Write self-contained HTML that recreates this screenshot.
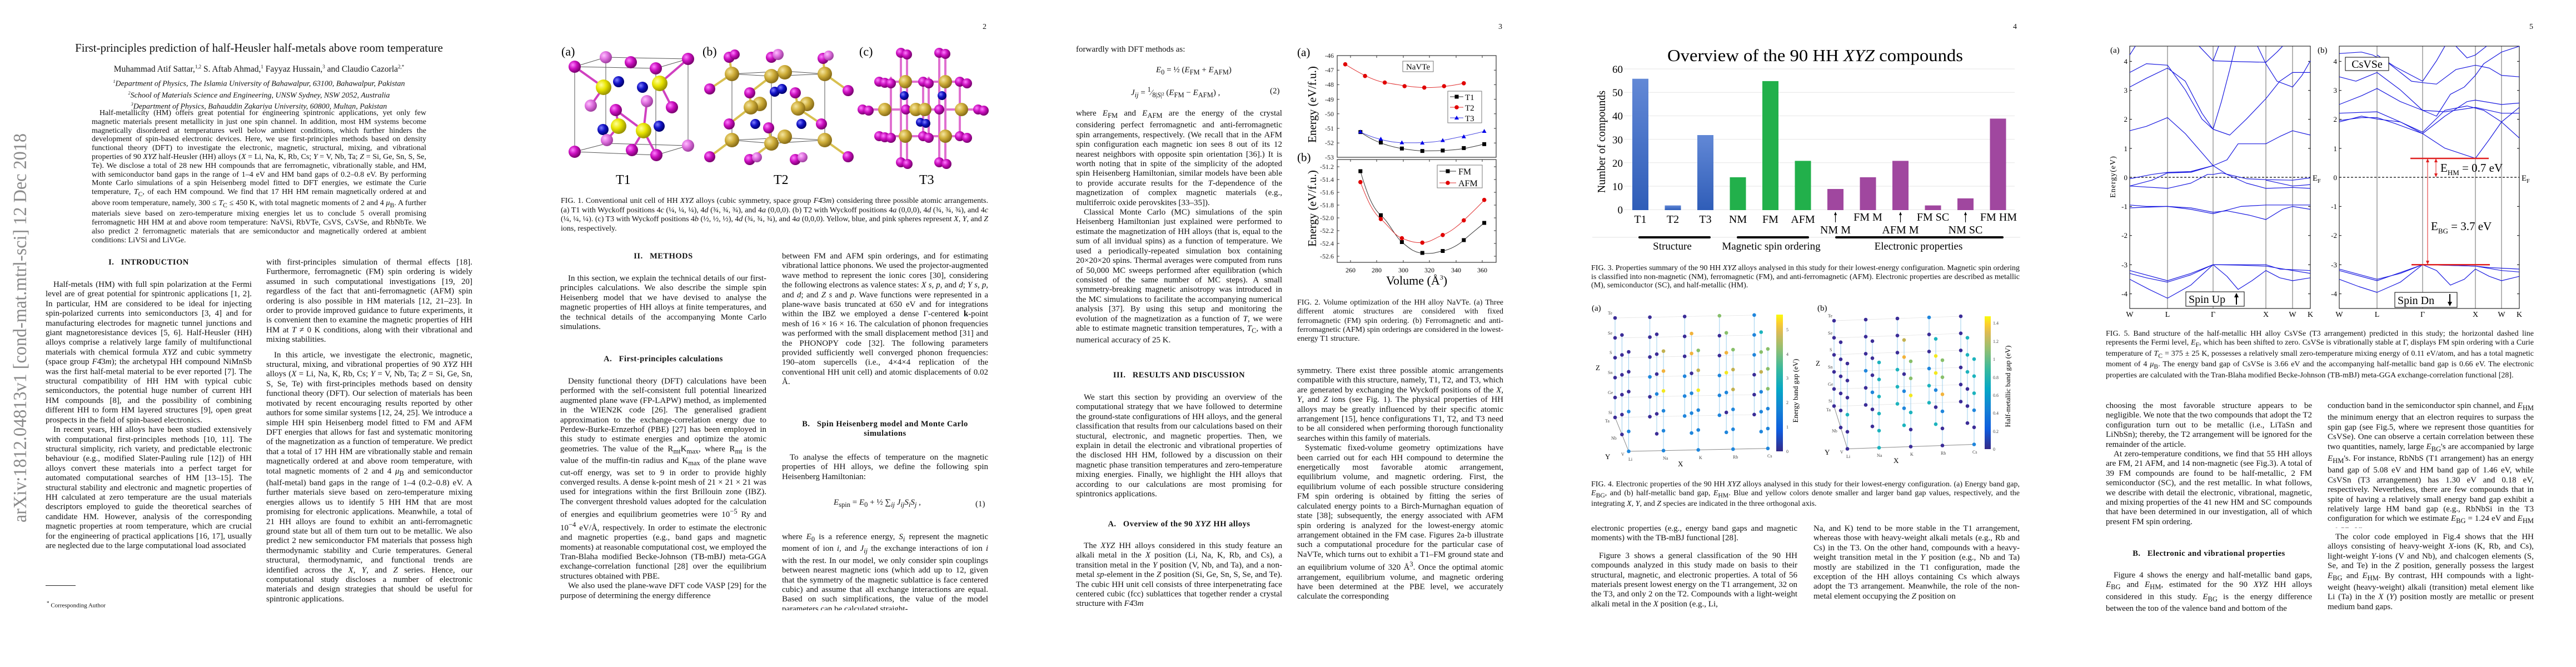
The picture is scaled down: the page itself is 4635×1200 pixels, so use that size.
<!DOCTYPE html>
<html lang="en"><head><meta charset="utf-8">
<style>
html,body{margin:0;padding:0;background:#fff;}
body{width:4635px;height:1200px;position:relative;overflow:hidden;font-family:"Liberation Serif",serif;color:#111;}
.c{position:absolute;width:371px;font-size:15px;line-height:17.4px;text-align:justify;hyphens:auto;overflow:hidden;}
.c p{margin:0;text-indent:14px;}
.c p.ni{text-indent:0;}
.cap{position:absolute;font-size:14px;line-height:16px;text-align:justify;hyphens:auto;overflow:hidden;}
.h{position:absolute;width:371px;text-align:center;font-size:14.5px;font-weight:bold;letter-spacing:.5px;}
.pn{position:absolute;font-size:14px;}
svg text{font-family:"Liberation Serif",serif;}
.D{fill:#3b2c97}.B{fill:#1f86dc}.T{fill:#1cb3bd}.G{fill:#88bf6a}.O{fill:#f2b33c}.Y{fill:#f3e81e}.L{fill:#c2b150}
</style></head><body>

<!-- arXiv stamp -->
<svg style="position:absolute;left:0;top:0" width="70" height="1000"><text transform="translate(47,940) rotate(-90)" font-size="34" fill="#8a8a8a" textLength="700" lengthAdjust="spacingAndGlyphs">arXiv:1812.04813v1  [cond-mat.mtrl-sci]  12 Dec 2018</text></svg>

<!-- PAGE 1 -->
<div style="position:absolute;left:80px;width:772px;top:74px;text-align:center;font-size:21px;">First-principles prediction of half-Heusler half-metals above room temperature</div>
<div style="position:absolute;left:80px;width:772px;top:115px;text-align:center;font-size:15.5px;">Muhammad Atif Sattar,<sup style="font-size:9px">1,2</sup> S. Aftab Ahmad,<sup style="font-size:9px">1</sup> Fayyaz Hussain,<sup style="font-size:9px">3</sup> and Claudio Cazorla<sup style="font-size:9px">2,*</sup></div>
<div style="position:absolute;left:80px;width:772px;top:139px;text-align:center;font-size:14px;line-height:16px;font-style:italic;"><sup style="font-size:8px">1</sup>Department of Physics, The Islamia University of Bahawalpur, 63100, Bahawalpur, Pakistan<br><sup style="font-size:8px">2</sup>School of Materials Science and Engineering, UNSW Sydney, NSW 2052, Australia<br><sup style="font-size:8px">3</sup>Department of Physics, Bahauddin Zakariya University, 60800, Multan, Pakistan</div>
<div class="cap" style="left:165px;width:602px;top:196px;line-height:15.8px;height:240px;"><span style="padding-left:14px"></span>Half-metallicity (HM) offers great potential for engineering spintronic applications, yet only few magnetic materials present metallicity in just one spin channel. In addition, most HM systems become magnetically disordered at temperatures well below ambient conditions, which further hinders the development of spin-based electronic devices. Here, we use first-principles methods based on density functional theory (DFT) to investigate the electronic, magnetic, structural, mixing, and vibrational properties of 90 <i>XYZ</i> half-Heusler (HH) alloys (<i>X</i> = Li, Na, K, Rb, Cs; <i>Y</i> = V, Nb, Ta; <i>Z</i> = Si, Ge, Sn, S, Se, Te). We disclose a total of 28 new HH compounds that are ferromagnetic, vibrationally stable, and HM, with semiconductor band gaps in the range of 1–4 eV and HM band gaps of 0.2–0.8 eV. By performing Monte Carlo simulations of a spin Heisenberg model fitted to DFT energies, we estimate the Curie temperature, <i>T</i><sub>C</sub>, of each HM compound. We find that 17 HH HM remain magnetically ordered at and above room temperature, namely, 300 ≤ <i>T</i><sub>C</sub> ≤ 450 K, with total magnetic moments of 2 and 4 <i>μ</i><sub>B</sub>. A further materials sieve based on zero-temperature mixing energies let us to conclude 5 overall promising ferromagnetic HH HM at and above room temperature: NaVSi, RbVTe, CsVS, CsVSe, and RbNbTe. We also predict 2 ferromagnetic materials that are semiconductor and magnetically ordered at ambient conditions: LiVSi and LiVGe.</div>

<div class="h" style="left:82px;top:464px;">I.&nbsp;&nbsp;&nbsp;INTRODUCTION</div>
<div class="c" style="left:82px;top:504px;height:522px;">
<p>Half-metals (HM) with full spin polarization at the Fermi level are of great potential for spintronic applications [1, 2]. In particular, HM are considered to be ideal for injecting spin-polarized currents into semiconductors [3, 4] and for manufacturing electrodes for magnetic tunnel junctions and giant magnetoresistance devices [5, 6]. Half-Heusler (HH) alloys comprise a relatively large family of multifunctional materials with chemical formula <i>XYZ</i> and cubic symmetry (space group <i>F</i>4̄3<i>m</i>); the archetypal HH compound NiMnSb was the first half-metal material to be ever reported [7]. The structural compatibility of HH HM with typical cubic semiconductors, the potential huge number of current HH HM compounds [8], and the possibility of combining different HH to form HM layered structures [9], open great prospects in the field of spin-based electronics.</p>
<p>In recent years, HH alloys have been studied extensively with computational first-principles methods [10, 11]. The structural simplicity, rich variety, and predictable electronic behaviour (e.g., modified Slater-Pauling rule [12]) of HH alloys convert these materials into a perfect target for automated computational searches of HM [13–15]. The structural stability and electronic and magnetic properties of HH calculated at zero temperature are the usual materials descriptors employed to guide the theoretical searches of candidate HM. However, analysis of the corresponding magnetic properties at room temperature, which are crucial for the engineering of practical applications [16, 17], usually are neglected due to the large computational load associated</p></div>
<div style="position:absolute;left:82px;top:1053px;width:54px;border-top:1px solid #222;"></div>
<div style="position:absolute;left:84px;top:1080px;font-size:11px;"><sup>*</sup> Corresponding Author</div>
<div class="c" style="left:479px;top:464px;height:640px;">
<p class="ni">with first-principles simulation of thermal effects [18]. Furthermore, ferromagnetic (FM) spin ordering is widely assumed in such computational investigations [19, 20] regardless of the fact that anti-ferromagnetic (AFM) spin ordering is also possible in HM materials [12, 21–23]. In order to provide improved guidance to future experiments, it is convenient then to examine the magnetic properties of HH HM at <i>T</i> ≠ 0 K conditions, along with their vibrational and mixing stabilities.</p>
<p style="margin-top:10px">In this article, we investigate the electronic, magnetic, structural, mixing, and vibrational properties of 90 <i>XYZ</i> HH alloys (<i>X</i> = Li, Na, K, Rb, Cs; <i>Y</i> = V, Nb, Ta; <i>Z</i> = Si, Ge, Sn, S, Se, Te) with first-principles methods based on density functional theory (DFT). Our selection of materials has been motivated by recent encouraging results reported by other authors for some similar systems [12, 24, 25]. We introduce a simple HH spin Heisenberg model fitted to FM and AFM DFT energies that allows for fast and systematic monitoring of the magnetization as a function of temperature. We predict that a total of 17 HH HM are vibrationally stable and remain magnetically ordered at and above room temperature, with total magnetic moments of 2 and 4 <i>μ</i><sub>B</sub> and semiconductor (half-metal) band gaps in the range of 1–4 (0.2–0.8) eV. A further materials sieve based on zero-temperature mixing energies allows us to identify 5 HH HM that are most promising for electronic applications. Meanwhile, a total of 21 HH alloys are found to exhibit an anti-ferromagnetic ground state but all of them turn out to be metallic. We also predict 2 new semiconductor FM materials that possess high thermodynamic stability and Curie temperatures. General structural, thermodynamic, and functional trends are identified across the <i>X</i>, <i>Y</i>, and <i>Z</i> series. Hence, our computational study discloses a number of electronic materials and design strategies that should be useful for spintronic applications.</p></div>

<!-- PAGE 2 -->
<div class="pn" style="left:1768px;top:41px;">2</div>
<div class="cap" style="left:1009px;width:769px;top:354px;line-height:16.6px;height:70px;">FIG. 1. Conventional unit cell of HH <i>XYZ</i> alloys (cubic symmetry, space group <i>F</i>4̄3<i>m</i>) considering three possible atomic arrangements. (a) T1 with Wyckoff positions 4<i>c</i> (¼, ¼, ¼), 4<i>d</i> (¾, ¾, ¾), and 4<i>a</i> (0,0,0). (b) T2 with Wyckoff positions 4<i>a</i> (0,0,0), 4<i>d</i> (¾, ¾, ¾), and 4<i>c</i> (¼, ¼, ¼). (c) T3 with Wyckoff positions 4<i>b</i> (½, ½, ½), 4<i>d</i> (¾, ¾, ¾), and 4<i>a</i> (0,0,0). Yellow, blue, and pink spheres represent <i>X</i>, <i>Y</i>, and <i>Z</i> ions, respectively.</div>
<div class="h" style="left:1008px;top:453px;">II.&nbsp;&nbsp;&nbsp;METHODS</div>
<div class="c" style="left:1008px;top:493px;height:106px;"><p>In this section, we explain the technical details of our first-principles calculations. We also describe the simple spin Heisenberg model that we have devised to analyse the magnetic properties of HH alloys at finite temperatures, and the technical details of the accompanying Monte Carlo simulations.</p></div>
<div class="h" style="left:1008px;top:638px;">A.&nbsp;&nbsp;&nbsp;First-principles calculations</div>
<div class="c" style="left:1008px;top:678px;height:420px;"><p>Density functional theory (DFT) calculations have been performed with the self-consistent full potential linearized augmented plane wave (FP-LAPW) method, as implemented in the WIEN2K code [26]. The generalised gradient approximation to the exchange-correlation energy due to Perdew-Burke-Ernzerhof (PBE) [27] has been employed in this study to estimate energies and optimize the atomic geometries. The value of the R<sub>mt</sub>K<sub>max</sub>, where R<sub>mt</sub> is the value of the muffin-tin radius and K<sub>max</sub> of the plane wave cut-off energy, was set to 9 in order to provide highly converged results. A dense k-point mesh of 21 × 21 × 21 was used for integrations within the first Brillouin zone (IBZ). The convergent threshold values adopted for the calculation of energies and equilibrium geometries were 10<sup>−5</sup> Ry and 10<sup>−4</sup> eV/Å, respectively. In order to estimate the electronic and magnetic properties (e.g., band gaps and magnetic moments) at reasonable computational cost, we employed the Tran-Blaha modified Becke-Johnson (TB-mBJ) meta-GGA exchange-correlation functional [28] over the equilibrium structures obtained with PBE.</p><p>We also used the plane-wave DFT code VASP [29] for the purpose of determining the energy difference</p></div>
<div class="c" style="left:1407px;top:453px;height:245px;"><p class="ni">between FM and AFM spin orderings, and for estimating vibrational lattice phonons. We used the projector-augmented wave method to represent the ionic cores [30], considering the following electrons as valence states: <i>X s</i>, <i>p</i>, and <i>d</i>; <i>Y s</i>, <i>p</i>, and <i>d</i>; and <i>Z s</i> and <i>p</i>. Wave functions were represented in a plane-wave basis truncated at 650 eV and for integrations within the IBZ we employed a dense Γ-centered <b>k</b>-point mesh of 16 × 16 × 16. The calculation of phonon frequencies was performed with the small displacement method [31] and the PHONOPY code [32]. The following parameters provided sufficiently well converged phonon frequencies: 190–atom supercells (i.e., 4×4×4 replication of the conventional HH unit cell) and atomic displacements of 0.02 Å.</p></div>
<div class="h" style="left:1407px;top:755px;line-height:16.5px;">B.&nbsp;&nbsp;&nbsp;Spin Heisenberg model and Monte Carlo<br>simulations</div>
<div class="c" style="left:1407px;top:815px;height:55px;"><p>To analyse the effects of temperature on the magnetic properties of HH alloys, we define the following spin Heisenberg Hamiltonian:</p></div>
<div style="position:absolute;left:1500px;top:896px;font-size:15px;"><i>E</i><sub>spin</sub> = <i>E</i><sub>0</sub> + ½ ∑<sub><i>ij</i></sub> <i>J<sub>ij</sub>S<sub>i</sub>S<sub>j</sub></i> ,</div>
<div style="position:absolute;left:1755px;top:899px;font-size:15px;">(1)</div>
<div class="c" style="left:1407px;top:958px;height:140px;"><p class="ni">where <i>E</i><sub>0</sub> is a reference energy, <i>S<sub>i</sub></i> represent the magnetic moment of ion <i>i</i>, and <i>J<sub>ij</sub></i> the exchange interactions of ion <i>i</i> with the rest. In our model, we only consider spin couplings between nearest magnetic ions (which add up to 12, given that the symmetry of the magnetic sublattice is face centered cubic) and assume that all exchange interactions are equal. Based on such simplifications, the value of the model parameters can be calculated straight-</p></div>

<!-- PAGE 3 -->
<div class="pn" style="left:2696px;top:41px;">3</div>
<div class="c" style="left:1936px;top:81px;height:20px;"><p class="ni">forwardly with DFT methods as:</p></div>
<div style="position:absolute;left:2080px;top:118px;font-size:15px;"><i>E</i><sub>0</sub> = ½ (<i>E</i><sub>FM</sub> + <i>E</i><sub>AFM</sub>)</div>
<div style="position:absolute;left:2035px;top:154px;font-size:15px;"><i>J<sub>ij</sub></i> = <sup>1</sup>⁄<sub>8|<i>S</i>|²</sub> (<i>E</i><sub>FM</sub> − <i>E</i><sub>AFM</sub>) ,</div>
<div style="position:absolute;left:2285px;top:156px;font-size:15px;">(2)</div>
<div class="c" style="left:1936px;top:196px;height:436px;"><p class="ni">where <i>E</i><sub>FM</sub> and <i>E</i><sub>AFM</sub> are the energy of the crystal considering perfect ferromagnetic and anti-ferromagnetic spin arrangements, respectively. (We recall that in the AFM spin configuration each magnetic ion sees 8 out of its 12 nearest neighbors with opposite spin orientation [36].) It is worth noting that in spite of the simplicity of the adopted spin Heisenberg Hamiltonian, similar models have been able to provide accurate results for the <i>T</i>-dependence of the magnetization of complex magnetic materials (e.g., multiferroic oxide perovskites [33–35]).</p><p>Classical Monte Carlo (MC) simulations of the spin Heisenberg Hamiltonian just explained were performed to estimate the magnetization of HH alloys (that is, equal to the sum of all invidual spins) as a function of temperature. We used a periodically-repeated simulation box containing 20×20×20 spins. Thermal averages were computed from runs of 50,000 MC sweeps performed after equilibration (which consisted of the same number of MC steps). A small symmetry-breaking magnetic anisotropy was introduced in the MC simulations to facilitate the accompanying numerical analysis [37]. By using this setup and monitoring the evolution of the magnetization as a function of <i>T</i>, we were able to estimate magnetic transition temperatures, <i>T</i><sub>C</sub>, with a numerical accuracy of 25 K.</p></div>
<div class="h" style="left:1936px;top:667px;">III.&nbsp;&nbsp;&nbsp;RESULTS AND DISCUSSION</div>
<div class="c" style="left:1936px;top:707px;height:193px;"><p>We start this section by providing an overview of the computational strategy that we have followed to determine the ground-state configurations of HH alloys, and the general classification that results from our calculations based on their stuctural, electronic, and magnetic properties. Then, we explain in detail the electronic and vibrational properties of the disclosed HH HM, followed by a discussion on their magnetic phase transition temperatures and zero-temperature mixing energies. Finally, we highlight the HH alloys that according to our calculations are most promising for spintronics applications.</p></div>
<div class="h" style="left:1936px;top:935px;">A.&nbsp;&nbsp;&nbsp;Overview of the 90 <i>XYZ</i> HH alloys</div>
<div class="c" style="left:1936px;top:974px;height:124px;"><p>The <i>XYZ</i> HH alloys considered in this study feature an alkali metal in the <i>X</i> position (Li, Na, K, Rb, and Cs), a transition metal in the <i>Y</i> position (V, Nb, and Ta), and a non-metal <i>sp</i>-element in the <i>Z</i> position (Si, Ge, Sn, S, Se, and Te). The cubic HH unit cell consists of three interpenetrating face centered cubic (fcc) sublattices that together render a crystal structure with <i>F</i>4̄3<i>m</i></p></div>
<div class="cap" style="left:2334px;width:371px;top:537px;line-height:16.3px;height:84px;">FIG. 2. Volume optimization of the HH alloy NaVTe. (a) Three different atomic structures are considered with fixed ferromagnetic (FM) spin ordering. (b) Ferromagnetic and anti-ferromagnetic (AFM) spin orderings are considered in the lowest-energy T1 structure.</div>
<div class="c" style="left:2334px;top:659px;height:439px;"><p class="ni">symmetry. There exist three possible atomic arrangements compatible with this structure, namely, T1, T2, and T3, which are generated by exchanging the Wyckoff positions of the <i>X</i>, <i>Y</i>, and <i>Z</i> ions (see Fig. 1). The physical properties of HH alloys may be greatly influenced by their specific atomic arrangement [15], hence configurations T1, T2, and T3 need to be all considered when performing thorough functionality searches within this family of materials.</p><p>Systematic fixed-volume geometry optimizations have been carried out for each HH compound to determine the energetically most favorable atomic arrangement, equilibrium volume, and magnetic ordering. First, the equilibrium volume of each possible structure considering FM spin ordering is obtained by fitting the series of calculated energy points to a Birch-Murnaghan equation of state [38]; subsequently, the energy associated with AFM spin ordering is analyzed for the lowest-energy atomic arrangement obtained in the FM case. Figures 2a-b illustrate such a computational procedure for the particular case of NaVTe, which turns out to exhibit a T1–FM ground state and an equilibrium volume of 320 Å<sup>3</sup>. Once the optimal atomic arrangement, equilibrium volume, and magnetic ordering have been determined at the PBE level, we accurately calculate the corresponding</p></div>

<!-- PAGE 4 -->
<div class="pn" style="left:3622px;top:41px;">4</div>
<div class="cap" style="left:2863px;width:771px;top:475px;line-height:15.7px;height:50px;">FIG. 3. Properties summary of the 90 HH <i>XYZ</i> alloys analysed in this study for their lowest-energy configuration. Magnetic spin ordering is classified into non-magnetic (NM), ferromagnetic (FM), and anti-ferromagnetic (AFM). Electronic properties are described as metallic (M), semiconductor (SC), and half-metallic (HM).</div>
<div class="cap" style="left:2863px;width:771px;top:864px;line-height:15.7px;height:50px;">FIG. 4. Electronic properties of the 90 HH <i>XYZ</i> alloys analysed in this study for their lowest-energy configuration. (a) Energy band gap, <i>E</i><sub>BG</sub>, and (b) half-metallic band gap, <i>E</i><sub>HM</sub>. Blue and yellow colors denote smaller and larger band gap values, respectively, and the integrating <i>X</i>, <i>Y</i>, and <i>Z</i> species are indicated in the three orthogonal axis.</div>
<div class="c" style="left:2863px;top:943px;height:155px;"><p class="ni">electronic properties (e.g., energy band gaps and magnetic moments) with the TB-mBJ functional [28].</p><p style="margin-top:14px">Figure 3 shows a general classification of the 90 HH compounds analyzed in this study made on basis to their structural, magnetic, and electronic properties. A total of 56 materials present lowest energy on the T1 arrangement, 32 on the T3, and only 2 on the T2. Compounds with a light-weight alkali metal in the <i>X</i> position (e.g., Li,</p></div>
<div class="c" style="left:3263px;top:943px;height:155px;"><p class="ni">Na, and K) tend to be more stable in the T1 arrangement, whereas those with heavy-weight alkali metals (e.g., Rb and Cs) in the T3. On the other hand, compounds with a heavy-weight transition metal in the <i>Y</i> position (e.g., Nb and Ta) mostly are stabilized in the T1 configuration, made the exception of the HH alloys containing Cs which always adopt the T3 arrangement. Meanwhile, the role of the non-metal element occupying the <i>Z</i> position on</p></div>

<!-- PAGE 5 -->
<div class="pn" style="left:4551px;top:41px;">5</div>
<div class="cap" style="left:3789px;width:770px;top:593px;line-height:15.9px;height:98px;">FIG. 5. Band structure of the half-metallic HH alloy CsVSe (T3 arrangement) predicted in this study; the horizontal dashed line represents the Fermi level, <i>E</i><sub>F</sub>, which has been shifted to zero. CsVSe is vibrationally stable at Γ, displays FM spin ordering with a Curie temperature of <i>T</i><sub>C</sub> = 375 ± 25 K, possesses a relatively small zero-temperature mixing energy of 0.11 eV/atom, and has a total magnetic moment of 4 <i>μ</i><sub>B</sub>. The energy band gap of CsVSe is 3.66 eV and the accompanying half-metallic band gap is 0.66 eV. The electronic properties are calculated with the Tran-Blaha modified Becke-Johnson (TB-mBJ) meta-GGA exchange-correlation functional [28].</div>
<div class="c" style="left:3789px;top:722px;height:228px;"><p class="ni">choosing the most favorable structure appears to be negligible. We note that the two compounds that adopt the T2 configuration turn out to be metallic (i.e., LiTaSn and LiNbSn); thereby, the T2 arrangement will be ignored for the remainder of the article.</p><p>At zero-temperature conditions, we find that 55 HH alloys are FM, 21 AFM, and 14 non-magnetic (see Fig.3). A total of 39 FM compounds are found to be half-metallic, 2 FM semiconductor (SC), and the rest metallic. In what follows, we describe with detail the electronic, vibrational, magnetic, and mixing properties of the 41 new HM and SC compounds that have been determined in our investigation, all of which present FM spin ordering.</p></div>
<div class="h" style="left:3789px;top:988px;">B.&nbsp;&nbsp;&nbsp;Electronic and vibrational properties</div>
<div class="c" style="left:3789px;top:1027px;height:72px;"><p>Figure 4 shows the energy and half-metallic band gaps, <i>E</i><sub>BG</sub> and <i>E</i><sub>HM</sub>, estimated for the 90 <i>XYZ</i> HH alloys considered in this study. <i>E</i><sub>BG</sub> is the energy difference between the top of the valence band and bottom of the</p></div>
<div class="c" style="left:4188px;top:722px;height:228px;"><p class="ni">conduction band in the semiconductor spin channel, and <i>E</i><sub>HM</sub> the minimum energy that an electron requires to surpass the spin gap (see Fig.5, where we represent those quantities for CsVSe). One can observe a certain correlation between these two quantities, namely, large <i>E</i><sub>BG</sub>'s are accompanied by large <i>E</i><sub>HM</sub>'s. For instance, RbNbS (T1 arrangement) has an energy band gap of 5.08 eV and HM band gap of 1.46 eV, while CsVSn (T3 arrangement) has 1.30 eV and 0.18 eV, respectively. Nevertheless, there are few compounds that in spite of having a relatively small energy band gap exhibit a relatively large HM band gap (e.g., RbNbSi in the T3 configuration for which we estimate <i>E</i><sub>BG</sub> = 1.24 eV and <i>E</i><sub>HM</sub> = 0.57 eV).</p></div>
<div class="c" style="left:4188px;top:958px;height:140px;"><p>The color code employed in Fig.4 shows that the HH alloys consisting of heavy-weight <i>X</i>-ions (K, Rb, and Cs), light-weight <i>Y</i>-ions (V and Nb), and chalcogen elements (S, Se, and Te) in the <i>Z</i> position, generally possess the largest <i>E</i><sub>BG</sub> and <i>E</i><sub>HM</sub>. By contrast, HH compounds with a light-weight (heavy-weight) alkali (transition) metal element like Li (Ta) in the <i>X</i> (<i>Y</i>) position mostly are metallic or present medium band gaps.</p></div>

<!-- FIGURES -->
<svg style="position:absolute;left:0;top:0" width="4635" height="1200" viewBox="0 0 4635 1200">
<defs>
<radialGradient id="gy" cx="35%" cy="35%" r="65%"><stop offset="0" stop-color="#ffff9a"/><stop offset=".5" stop-color="#e8e400"/><stop offset="1" stop-color="#9a9400"/></radialGradient>
<radialGradient id="gg" cx="35%" cy="35%" r="65%"><stop offset="0" stop-color="#f5e6a0"/><stop offset=".5" stop-color="#cfae3a"/><stop offset="1" stop-color="#8a6e18"/></radialGradient>
<radialGradient id="gm" cx="35%" cy="35%" r="65%"><stop offset="0" stop-color="#ff80ff"/><stop offset=".5" stop-color="#cc10c0"/><stop offset="1" stop-color="#7a0070"/></radialGradient>
<radialGradient id="gp" cx="35%" cy="35%" r="65%"><stop offset="0" stop-color="#ffc0ff"/><stop offset=".5" stop-color="#e070e0"/><stop offset="1" stop-color="#a040a0"/></radialGradient>
<radialGradient id="gb" cx="35%" cy="35%" r="65%"><stop offset="0" stop-color="#8080ff"/><stop offset=".5" stop-color="#1414c8"/><stop offset="1" stop-color="#000070"/></radialGradient>
<linearGradient id="bb" x1="0" y1="0" x2="0" y2="1"><stop offset="0" stop-color="#6288d6"/><stop offset="1" stop-color="#2f5db8"/></linearGradient>
<linearGradient id="par" x1="0" y1="1" x2="0" y2="0"><stop offset="0" stop-color="#352a87"/><stop offset=".15" stop-color="#0f5cdd"/><stop offset=".3" stop-color="#1481d6"/><stop offset=".45" stop-color="#06a7c6"/><stop offset=".6" stop-color="#38b99e"/><stop offset=".75" stop-color="#92bf73"/><stop offset=".87" stop-color="#d9ba56"/><stop offset=".94" stop-color="#fcce2e"/><stop offset="1" stop-color="#f9fb0e"/></linearGradient>
</defs>

<!-- FIG 1 -->
<g font-size="22">
<text x="1010" y="100">(a)</text><text x="1264" y="100">(b)</text><text x="1546" y="100">(c)</text>
<text x="1108" y="331" font-size="24">T1</text><text x="1392" y="331" font-size="24">T2</text><text x="1654" y="331" font-size="24">T3</text>
</g>
<g stroke="#555" stroke-width="1" fill="none">
<path d="M1034,120 L1180,123 L1238,106 L1090,103 Z M1034,273 L1181,279 L1238,262 L1092,258 Z M1034,120 V273 M1180,123 V279 M1238,106 V262 M1090,103 V258"/>
<path d="M1317,133 L1388,137 L1484,133 L1412,128 Z M1317,252 L1388,258 L1484,252 L1412,248 Z M1317,133 V252 M1484,133 V252 M1388,137 V258"/>
</g>
<g stroke-width="4" stroke-linecap="round">
<path stroke="#d040c0" d="M1086,157 L1063,190 M1086,157 L1034,120 M1187,150 L1238,106 M1187,150 L1209,193 M1113,227 L1108,198 M1158,235 L1164,182 M1113,227 L1092,252 M1158,235 L1181,279 M1137,270 L1158,235 M1108,198 L1158,235"/>
<path stroke="#d8c050" d="M1317,133 L1277,160 M1317,133 L1312,103 M1388,137 L1349,167 M1484,133 L1526,163 M1484,133 L1481,105 M1351,193 L1312,223 M1436,195 L1478,223 M1317,252 L1277,282 M1388,258 L1349,287 M1484,252 L1526,282 M1351,193 L1349,167 M1436,195 L1431,167 M1388,258 L1383,230"/>
<path stroke="#e070d0" d="M1621,95 V292 M1632,98 V295 M1690,95 V292 M1701,97 V295 M1552,197 H1769 M1582,147 H1740 M1582,245 H1740 M1603,140 V250 M1661,140 V250 M1671,140 V250 M1727,140 V250"/>
</g>
<g>
<circle cx="1090" cy="103" r="11" fill="url(#gp)"/><circle cx="1135" cy="112" r="11" fill="url(#gm)"/><circle cx="1238" cy="106" r="11" fill="url(#gm)"/><circle cx="1034" cy="120" r="11" fill="url(#gm)"/><circle cx="1180" cy="123" r="11" fill="url(#gm)"/>
<circle cx="1113" cy="147" r="10" fill="url(#gb)"/><circle cx="1156" cy="157" r="10" fill="url(#gb)"/>
<circle cx="1086" cy="157" r="14" fill="url(#gy)"/><circle cx="1187" cy="150" r="14" fill="url(#gy)"/>
<circle cx="1063" cy="190" r="11" fill="url(#gp)"/><circle cx="1164" cy="182" r="11" fill="url(#gp)"/><circle cx="1209" cy="193" r="11" fill="url(#gm)"/><circle cx="1108" cy="198" r="11" fill="url(#gm)"/>
<circle cx="1085" cy="233" r="10" fill="url(#gb)"/><circle cx="1186" cy="227" r="10" fill="url(#gb)"/>
<circle cx="1113" cy="227" r="14" fill="url(#gy)"/><circle cx="1158" cy="235" r="14" fill="url(#gy)"/>
<circle cx="1092" cy="252" r="11" fill="url(#gp)"/><circle cx="1238" cy="262" r="11" fill="url(#gp)"/><circle cx="1137" cy="270" r="11" fill="url(#gm)"/><circle cx="1034" cy="273" r="11" fill="url(#gm)"/><circle cx="1181" cy="279" r="11" fill="url(#gm)"/>
</g>
<g>
<circle cx="1312" cy="103" r="10" fill="url(#gm)"/><circle cx="1322" cy="98" r="9" fill="url(#gm)"/><circle cx="1388" cy="103" r="10" fill="url(#gm)"/><circle cx="1400" cy="98" r="10" fill="url(#gp)"/><circle cx="1481" cy="105" r="10" fill="url(#gm)"/><circle cx="1491" cy="100" r="9" fill="url(#gp)"/>
<circle cx="1412" cy="130" r="13" fill="url(#gg)"/><circle cx="1317" cy="133" r="13" fill="url(#gg)"/><circle cx="1388" cy="137" r="13" fill="url(#gg)"/><circle cx="1484" cy="133" r="13" fill="url(#gg)"/>
<circle cx="1277" cy="160" r="10" fill="url(#gm)"/><circle cx="1526" cy="163" r="10" fill="url(#gm)"/><circle cx="1349" cy="167" r="10" fill="url(#gm)"/><circle cx="1431" cy="167" r="10" fill="url(#gm)"/><circle cx="1394" cy="165" r="9" fill="url(#gb)"/><circle cx="1407" cy="160" r="9" fill="url(#gb)"/>
<circle cx="1367" cy="187" r="13" fill="url(#gg)"/><circle cx="1452" cy="187" r="13" fill="url(#gg)"/><circle cx="1351" cy="193" r="13" fill="url(#gg)"/><circle cx="1436" cy="195" r="13" fill="url(#gg)"/>
<circle cx="1312" cy="223" r="10" fill="url(#gm)"/><circle cx="1383" cy="230" r="10" fill="url(#gm)"/><circle cx="1478" cy="223" r="10" fill="url(#gm)"/><circle cx="1359" cy="223" r="9" fill="url(#gb)"/><circle cx="1442" cy="223" r="9" fill="url(#gb)"/>
<circle cx="1412" cy="246" r="13" fill="url(#gg)"/><circle cx="1317" cy="252" r="13" fill="url(#gg)"/><circle cx="1388" cy="258" r="13" fill="url(#gg)"/><circle cx="1484" cy="252" r="13" fill="url(#gg)"/>
<circle cx="1277" cy="282" r="10" fill="url(#gm)"/><circle cx="1349" cy="287" r="10" fill="url(#gm)"/><circle cx="1431" cy="287" r="10" fill="url(#gm)"/><circle cx="1526" cy="282" r="10" fill="url(#gm)"/><circle cx="1362" cy="283" r="9" fill="url(#gp)"/><circle cx="1444" cy="283" r="9" fill="url(#gp)"/>
</g>
<g>
<circle cx="1621" cy="95" r="9" fill="url(#gm)"/><circle cx="1632" cy="98" r="9" fill="url(#gm)"/><circle cx="1690" cy="95" r="9" fill="url(#gm)"/><circle cx="1701" cy="97" r="9" fill="url(#gm)"/>
<circle cx="1582" cy="147" r="9" fill="url(#gm)"/><circle cx="1592" cy="149" r="9" fill="url(#gm)"/><circle cx="1603" cy="150" r="9" fill="url(#gm)"/><circle cx="1629" cy="147" r="12" fill="url(#gg)"/><circle cx="1661" cy="147" r="9" fill="url(#gm)"/><circle cx="1671" cy="150" r="9" fill="url(#gm)"/><circle cx="1701" cy="147" r="12" fill="url(#gg)"/><circle cx="1727" cy="147" r="9" fill="url(#gm)"/><circle cx="1740" cy="150" r="9" fill="url(#gm)"/>
<circle cx="1627" cy="172" r="8" fill="url(#gb)"/><circle cx="1695" cy="172" r="8" fill="url(#gb)"/>
<circle cx="1552" cy="197" r="9" fill="url(#gm)"/><circle cx="1563" cy="199" r="9" fill="url(#gm)"/><circle cx="1592" cy="197" r="12" fill="url(#gg)"/><circle cx="1630" cy="197" r="9" fill="url(#gm)"/><circle cx="1648" cy="197" r="12" fill="url(#gg)"/><circle cx="1664" cy="197" r="12" fill="url(#gg)"/><circle cx="1690" cy="197" r="9" fill="url(#gm)"/><circle cx="1730" cy="197" r="12" fill="url(#gg)"/><circle cx="1760" cy="197" r="9" fill="url(#gm)"/><circle cx="1770" cy="199" r="9" fill="url(#gm)"/>
<circle cx="1656" cy="220" r="8" fill="url(#gb)"/><circle cx="1666" cy="222" r="8" fill="url(#gb)"/>
<circle cx="1582" cy="245" r="9" fill="url(#gm)"/><circle cx="1592" cy="247" r="9" fill="url(#gm)"/><circle cx="1603" cy="248" r="9" fill="url(#gm)"/><circle cx="1629" cy="245" r="12" fill="url(#gg)"/><circle cx="1661" cy="245" r="9" fill="url(#gm)"/><circle cx="1671" cy="248" r="9" fill="url(#gm)"/><circle cx="1701" cy="245" r="12" fill="url(#gg)"/><circle cx="1727" cy="245" r="9" fill="url(#gm)"/><circle cx="1740" cy="248" r="9" fill="url(#gm)"/>
<circle cx="1621" cy="292" r="9" fill="url(#gm)"/><circle cx="1633" cy="295" r="9" fill="url(#gm)"/><circle cx="1690" cy="292" r="9" fill="url(#gm)"/><circle cx="1703" cy="295" r="9" fill="url(#gm)"/>
</g>

<!-- FIG 2 -->
<g font-family="Liberation Sans" >
<text x="2334" y="101" font-size="21" font-family="Liberation Serif">(a)</text>
<text x="2334" y="290" font-size="21" font-family="Liberation Serif">(b)</text>
<rect x="2406" y="100" width="286" height="183" fill="none" stroke="#333" stroke-width="1.2"/>
<rect x="2406" y="287" width="286" height="185" fill="none" stroke="#333" stroke-width="1.2"/>
<g font-size="12" text-anchor="end" fill="#222">
<text x="2400" y="104">-46</text><text x="2400" y="130">-47</text><text x="2400" y="156">-48</text><text x="2400" y="183">-49</text><text x="2400" y="209">-50</text><text x="2400" y="235">-51</text><text x="2400" y="261">-52</text><text x="2400" y="287">-53</text>
<text x="2400" y="304">-51.2</text><text x="2400" y="327">-51.4</text><text x="2400" y="350">-51.6</text><text x="2400" y="373">-51.8</text><text x="2400" y="396">-52.0</text><text x="2400" y="419">-52.2</text><text x="2400" y="442">-52.4</text><text x="2400" y="465">-52.6</text>
</g>
<g stroke="#333" stroke-width="1">
<path d="M2406,126.2h4M2406,152.4h4M2406,178.6h4M2406,204.8h4M2406,231h4M2406,257.2h4M2692,126.2h-4M2692,152.4h-4M2692,178.6h-4M2692,204.8h-4M2692,231h-4M2692,257.2h-4"/>
<path d="M2406,300h4M2406,323h4M2406,346h4M2406,369h4M2406,392h4M2406,415h4M2406,438h4M2406,461h4M2692,300h-4M2692,323h-4M2692,346h-4M2692,369h-4M2692,392h-4M2692,415h-4M2692,438h-4M2692,461h-4"/>
<path d="M2430,472v-4M2477,472v-4M2525,472v-4M2572,472v-4M2620,472v-4M2667,472v-4M2430,100v4M2477,100v4M2525,100v4M2572,100v4M2620,100v4M2667,100v4M2430,287v4M2477,287v4M2525,287v4M2572,287v4M2620,287v4M2667,287v4"/>
</g>
<g font-size="12" text-anchor="middle"><text x="2430" y="490">260</text><text x="2477" y="490">280</text><text x="2525" y="490">300</text><text x="2572" y="490">320</text><text x="2620" y="490">340</text><text x="2667" y="490">360</text></g>
<text x="2549" y="512" font-size="22" text-anchor="middle">Volume (Å<tspan font-size="12" dy="-9">3</tspan><tspan dy="9">)</tspan></text>
<text transform="translate(2368,188) rotate(-90)" font-size="21" text-anchor="middle">Energy (eV/f.u.)</text>
<text transform="translate(2368,375) rotate(-90)" font-size="21" text-anchor="middle">Energy (eV/f.u.)</text>
<rect x="2524" y="110" width="55" height="19" fill="#fff" stroke="#777"/><text x="2551.5" y="125" font-size="15" text-anchor="middle">NaVTe</text>
<path d="M2420.5,115.7 C2440,128 2470,145 2491.6,148.5 S2540,157 2562.7,157.6 S2615,154 2633.8,149.8" fill="none" stroke="#e03030" stroke-width="1"/>
<path d="M2447.8,237.6 C2465,250 2490,262 2522.4,267.2 S2560,272 2595.9,270.8 S2650,264 2670.6,259.3" fill="none" stroke="#333" stroke-width="1"/>
<path d="M2447.8,237.6 C2465,246 2495,256 2522.4,256.7 S2575,257 2595.9,252.7 S2650,242 2670.6,236.2" fill="none" stroke="#4040e0" stroke-width="1"/>
<g fill="#e00000"><circle cx="2420.5" cy="115.7" r="3.8"/><circle cx="2456.1" cy="136.7" r="3.8"/><circle cx="2491.6" cy="148.5" r="3.8"/><circle cx="2527.2" cy="155" r="3.8"/><circle cx="2562.7" cy="157.6" r="3.8"/><circle cx="2598.3" cy="155" r="3.8"/><circle cx="2633.8" cy="149.8" r="3.8"/></g>
<g fill="#000"><rect x="2444.3" y="234.1" width="7" height="7"/><rect x="2481" y="252.9" width="7" height="7"/><rect x="2518.9" y="263.7" width="7" height="7"/><rect x="2555.7" y="268.1" width="7" height="7"/><rect x="2592.4" y="267.3" width="7" height="7"/><rect x="2630.3" y="262.9" width="7" height="7"/><rect x="2667.1" y="255.8" width="7" height="7"/></g>
<g fill="#0000e8"><path d="M2447.8,233l4,7h-8z M2484.5,246l4,7h-8z M2522.4,252.5l4,7h-8z M2559.2,253l4,7h-8z M2595.9,248.5l4,7h-8z M2633.8,241.7l4,7h-8z M2670.6,232l4,7h-8z"/></g>
<rect x="2605" y="164" width="61" height="57" fill="#fff" stroke="#777"/>
<path d="M2609,174h24" stroke="#333"/><rect x="2617.5" y="170.5" width="7" height="7"/><text x="2636" y="180" font-size="15">T1</text>
<path d="M2609,193h24" stroke="#e03030"/><circle cx="2621" cy="193" r="3.8" fill="#e00000"/><text x="2636" y="199" font-size="15">T2</text>
<path d="M2609,212h24" stroke="#4040e0"/><path d="M2621,208l4,7h-8z" fill="#0000e8"/><text x="2636" y="218" font-size="15">T3</text>
<path d="M2447.8,308 C2460,350 2470,375 2484.5,387.2 S2510,425 2522.4,435.5 S2545,456 2565,456 S2582,454 2595.9,451.5 S2625,440 2633.8,432 S2660,410 2670.6,401" fill="none" stroke="#333" stroke-width="1"/>
<path d="M2447.8,327.6 C2460,360 2470,382 2484.5,394.1 S2508,423 2522.4,428.6 S2545,437 2559.2,436.6 S2582,428 2595.9,422.8 S2625,405 2633.8,396.4 S2660,372 2670.6,359.7" fill="none" stroke="#e03030" stroke-width="1"/>
<g fill="#000"><rect x="2444.3" y="304.5" width="7" height="7"/><rect x="2481" y="383.7" width="7" height="7"/><rect x="2518.9" y="432" width="7" height="7"/><rect x="2555.7" y="451.5" width="7" height="7"/><rect x="2592.4" y="448" width="7" height="7"/><rect x="2630.3" y="428.5" width="7" height="7"/><rect x="2667.1" y="397.5" width="7" height="7"/></g>
<g fill="#e00000"><circle cx="2447.8" cy="327.6" r="3.8"/><circle cx="2484.5" cy="394.1" r="3.8"/><circle cx="2522.4" cy="428.6" r="3.8"/><circle cx="2559.2" cy="436.6" r="3.8"/><circle cx="2595.9" cy="422.8" r="3.8"/><circle cx="2633.8" cy="396.4" r="3.8"/><circle cx="2670.6" cy="359.7" r="3.8"/></g>
<rect x="2586" y="297" width="81" height="41" fill="#fff" stroke="#777"/>
<path d="M2590,308h30" stroke="#333"/><rect x="2601.5" y="304.5" width="7" height="7"/><text x="2624" y="314" font-size="16">FM</text>
<path d="M2590,329h30" stroke="#e03030"/><circle cx="2605" cy="329" r="3.8" fill="#e00000"/><text x="2624" y="335" font-size="16">AFM</text>
</g>

<!-- FIG 3 -->
<text x="3266" y="110" font-size="31" text-anchor="middle" textLength="532" lengthAdjust="spacingAndGlyphs">Overview of the 90 HH <tspan font-style="italic">XYZ</tspan> compounds</text>
<g stroke="#e6e6e6" stroke-width="1"><path d="M2922,124H3625M2922,166.2H3625M2922,208.4H3625M2922,250.6H3625M2922,292.8H3625M2922,335H3625M2922,377.2H3625"/></g>
<g font-size="19" text-anchor="end"><text x="2920" y="131">60</text><text x="2920" y="173">50</text><text x="2920" y="215">40</text><text x="2920" y="258">30</text><text x="2920" y="300">20</text><text x="2920" y="342">10</text><text x="2920" y="384">0</text></g>
<text transform="translate(2888,255) rotate(-90)" font-size="20" text-anchor="middle">Number of compounds</text>
<g fill="url(#bb)"><rect x="2937" y="141.7" width="29" height="236.3"/><rect x="2995.5" y="369.6" width="29" height="8.4"/><rect x="3054" y="243" width="29" height="135"/></g>
<g fill="#22b04b"><rect x="3112.5" y="318.9" width="29" height="59.1"/><rect x="3171" y="145.9" width="29" height="232.1"/><rect x="3229.5" y="289.4" width="29" height="88.6"/></g>
<g fill="#a0479f"><rect x="3288" y="340" width="29" height="38"/><rect x="3346.5" y="318.9" width="29" height="59.1"/><rect x="3405" y="289.4" width="29" height="88.6"/><rect x="3463.5" y="369.6" width="29" height="8.4"/><rect x="3522" y="356.9" width="29" height="21.1"/><rect x="3580.5" y="213.4" width="29" height="164.6"/></g>
<g font-size="20" text-anchor="middle"><text x="2951.5" y="401">T1</text><text x="3010" y="401">T2</text><text x="3068.5" y="401">T3</text><text x="3127" y="401">NM</text><text x="3185.5" y="401">FM</text><text x="3244" y="401">AFM</text>
<text x="3361" y="397">FM M</text><text x="3478" y="397">FM SC</text><text x="3596" y="397">FM HM</text>
<text x="3302.5" y="420">NM M</text><text x="3419.5" y="420">AFM M</text><text x="3536.5" y="420">NM SC</text></g>
<g stroke="#000" stroke-width="1.2"><path d="M3302.5,400V384M3419.5,400V384M3536.5,400V384"/></g>
<path d="M3302.5,381l-2.5,6h5z M3419.5,381l-2.5,6h5z M3536.5,381l-2.5,6h5z" fill="#000"/>
<path d="M2865,427H3635" stroke="#e0e0e0" stroke-width="1"/>
<g stroke="#000" stroke-width="4" stroke-linecap="round"><path d="M2950,427H3076M3127,427H3253M3304,427H3603"/></g>
<g font-size="19" text-anchor="middle"><text x="3009" y="449">Structure</text><text x="3187" y="449">Magnetic spin ordering</text><text x="3452" y="449">Electronic properties</text></g>

<!-- FIG 4 -->
<text x="2864" y="559" font-size="15">(a)</text><text x="3270" y="559" font-size="15">(b)</text>
<g stroke="#e4e4e4" stroke-width="0.8" fill="none">
<path d="M2906,572L3156,567M2906,608L3156,603M2906,644L3156,638M2906,679L3156,674M2906,715L3156,710M2906,751L3156,746"/>
<path d="M3300,577L3528,569M3300,608L3528,600M3300,638L3528,630M3300,669L3528,661M3300,700L3528,692M3300,731L3528,723"/>
</g>
<path d="M2906,751L2930.5,812L3181,806.8" stroke="#888" fill="none"/>
<path d="M3300,731L3324,807.5L3552,799.5" stroke="#888" fill="none"/>
<g transform="translate(2906,572)">
<g id="a0">
<g><path d="M0,0V179" stroke="#9ccfee"/><circle r="3.3" cy="0" class="D"/><circle r="3.3" cy="35.8" class="D"/><circle r="3.3" cy="71.6" class="D"/><circle r="3.3" cy="107.4" class="D"/><circle r="3.3" cy="143.2" class="D"/><circle r="3.3" cy="179" class="D"/></g>
<g transform="translate(12.4,30.7)"><path d="M0,0V179" stroke="#9ccfee"/><circle r="3.3" cy="0" class="D"/><circle r="3.3" cy="35.8" class="D"/><circle r="3.3" cy="71.6" class="D"/><circle r="3.3" cy="107.4" class="D"/><circle r="3.3" cy="143.2" class="D"/><circle r="3.3" cy="179" class="D"/></g>
<g transform="translate(24.5,61)"><path d="M0,0V179" stroke="#9ccfee"/><circle r="3.3" cy="0" class="D"/><circle r="3.3" cy="35.8" class="D"/><circle r="3.3" cy="71.6" class="D"/><circle r="3.3" cy="107.4" class="B"/><circle r="3.3" cy="143.2" class="B"/><circle r="3.3" cy="179" class="B"/></g>
</g>
<g transform="translate(62.6,-1.3)">
<g><path d="M0,0V179" stroke="#9ccfee"/><circle r="3.3" cy="0" class="D"/><circle r="3.3" cy="35.8" class="D"/><circle r="3.3" cy="71.6" class="D"/><circle r="3.3" cy="107.4" class="B"/><circle r="3.3" cy="143.2" class="D"/><circle r="3.3" cy="179" class="D"/></g>
<g transform="translate(12.4,30.7)"><path d="M0,0V179" stroke="#9ccfee"/><circle r="3.3" cy="0" class="D"/><circle r="3.3" cy="35.8" class="D"/><circle r="3.3" cy="71.6" class="D"/><circle r="3.3" cy="107.4" class="B"/><circle r="3.3" cy="143.2" class="D"/><circle r="3.3" cy="179" class="D"/></g>
<g transform="translate(24.5,61)"><path d="M0,0V179" stroke="#9ccfee"/><circle r="3.3" cy="0" class="L"/><circle r="3.3" cy="35.8" class="O"/><circle r="3.3" cy="71.6" class="Y"/><circle r="3.3" cy="107.4" class="B"/><circle r="3.3" cy="143.2" class="B"/><circle r="3.3" cy="179" class="B"/></g>
</g>
<g transform="translate(125.2,-2.6)">
<g><path d="M0,0V179" stroke="#9ccfee"/><circle r="3.3" cy="0" class="D"/><circle r="3.3" cy="35.8" class="D"/><circle r="3.3" cy="71.6" class="D"/><circle r="3.3" cy="107.4" class="B"/><circle r="3.3" cy="143.2" class="B"/><circle r="3.3" cy="179" class="B"/></g>
<g transform="translate(12.4,30.7)"><path d="M0,0V179" stroke="#9ccfee"/><circle r="3.3" cy="0" class="O"/><circle r="3.3" cy="35.8" class="O"/><circle r="3.3" cy="71.6" class="D"/><circle r="3.3" cy="107.4" class="B"/><circle r="3.3" cy="143.2" class="B"/><circle r="3.3" cy="179" class="B"/></g>
<g transform="translate(24.5,61)"><path d="M0,0V179" stroke="#9ccfee"/><circle r="3.3" cy="0" class="G"/><circle r="3.3" cy="35.8" class="L"/><circle r="3.3" cy="71.6" class="Y"/><circle r="3.3" cy="107.4" class="B"/><circle r="3.3" cy="143.2" class="B"/><circle r="3.3" cy="179" class="B"/></g>
</g>
<g transform="translate(187.8,-3.9)">
<g><path d="M0,0V179" stroke="#9ccfee"/><circle r="3.3" cy="0" class="G"/><circle r="3.3" cy="35.8" class="D"/><circle r="3.3" cy="71.6" class="D"/><circle r="3.3" cy="107.4" class="B"/><circle r="3.3" cy="143.2" class="B"/><circle r="3.3" cy="179" class="B"/></g>
<g transform="translate(12.4,30.7)"><path d="M0,0V179" stroke="#9ccfee"/><circle r="3.3" cy="0" class="G"/><circle r="3.3" cy="35.8" class="O"/><circle r="3.3" cy="71.6" class="Y"/><circle r="3.3" cy="107.4" class="B"/><circle r="3.3" cy="143.2" class="D"/><circle r="3.3" cy="179" class="B"/></g>
<g transform="translate(24.5,61)"><path d="M0,0V179" stroke="#9ccfee"/><circle r="3.3" cy="0" class="G"/><circle r="3.3" cy="35.8" class="L"/><circle r="3.3" cy="71.6" class="L"/><circle r="3.3" cy="107.4" class="B"/><circle r="3.3" cy="143.2" class="B"/><circle r="3.3" cy="179" class="B"/></g>
</g>
<g transform="translate(250.4,-5.2)">
<g><path d="M0,0V179" stroke="#9ccfee"/><circle r="3.3" cy="0" class="B"/><circle r="3.3" cy="35.8" class="B"/><circle r="3.3" cy="71.6" class="B"/><circle r="3.3" cy="107.4" class="D"/><circle r="3.3" cy="143.2" class="D"/><circle r="3.3" cy="179" class="D"/></g>
<g transform="translate(12.4,30.7)"><path d="M0,0V179" stroke="#9ccfee"/><circle r="3.3" cy="0" class="T"/><circle r="3.3" cy="35.8" class="G"/><circle r="3.3" cy="71.6" class="L"/><circle r="3.3" cy="107.4" class="B"/><circle r="3.3" cy="143.2" class="B"/><circle r="3.3" cy="179" class="B"/></g>
<g transform="translate(24.5,61)"><path d="M0,0V179" stroke="#9ccfee"/><circle r="3.3" cy="0" class="G"/><circle r="3.3" cy="35.8" class="G"/><circle r="3.3" cy="71.6" class="G"/><circle r="3.3" cy="107.4" class="B"/><circle r="3.3" cy="143.2" class="B"/><circle r="3.3" cy="179" class="B"/></g>
</g>
</g>
<g font-size="8" fill="#444" font-family="Liberation Sans">
<text x="2893" y="566">Te</text><text x="2893" y="602">Se</text><text x="2896" y="637">S</text><text x="2893" y="673">Sn</text><text x="2893" y="709">Ge</text><text x="2894" y="745">Si</text>
<text x="2888" y="760">Ta</text><text x="2899" y="791">Nb</text><text x="2917" y="820">V</text>
<text x="2930" y="829">Li</text><text x="2992" y="827">Na</text><text x="3057" y="826">K</text><text x="3118" y="825">Rb</text><text x="3180" y="823">Cs</text>
<text x="3214" y="815">0</text><text x="3214" y="771">1</text><text x="3214" y="727">2</text><text x="3214" y="683">3</text><text x="3214" y="640">4</text><text x="3214" y="596">5</text>
</g>
<g font-size="13" font-family="Liberation Sans"><text x="2871" y="666">Z</text><text x="2888" y="826">Y</text><text x="3019" y="839">X</text></g>
<rect x="3196" y="566" width="12" height="246" fill="url(#par)"/>
<text transform="translate(3235,703) rotate(-90)" font-size="13" text-anchor="middle">Energy band gap (eV)</text>

<g transform="translate(3300,577)">
<g>
<g><path d="M0,0V153.5" stroke="#9ccfee"/><circle r="3.3" cy="0" class="D"/><circle r="3.3" cy="30.7" class="D"/><circle r="3.3" cy="61.4" class="D"/><circle r="3.3" cy="92.1" class="D"/><circle r="3.3" cy="122.8" class="D"/><circle r="3.3" cy="153.5" class="D"/></g>
<g transform="translate(12,38.7)"><path d="M0,0V153.5" stroke="#9ccfee"/><circle r="3.3" cy="0" class="D"/><circle r="3.3" cy="30.7" class="D"/><circle r="3.3" cy="61.4" class="D"/><circle r="3.3" cy="92.1" class="D"/><circle r="3.3" cy="122.8" class="D"/><circle r="3.3" cy="153.5" class="D"/></g>
<g transform="translate(24,77)"><path d="M0,0V153.5" stroke="#9ccfee"/><circle r="3.3" cy="0" class="D"/><circle r="3.3" cy="30.7" class="D"/><circle r="3.3" cy="61.4" class="D"/><circle r="3.3" cy="92.1" class="T"/><circle r="3.3" cy="122.8" class="D"/><circle r="3.3" cy="153.5" class="D"/></g>
</g>
<g transform="translate(57,-2)">
<g><path d="M0,0V153.5" stroke="#9ccfee"/><circle r="3.3" cy="0" class="D"/><circle r="3.3" cy="30.7" class="D"/><circle r="3.3" cy="61.4" class="D"/><circle r="3.3" cy="92.1" class="B"/><circle r="3.3" cy="122.8" class="D"/><circle r="3.3" cy="153.5" class="D"/></g>
<g transform="translate(12,38.7)"><path d="M0,0V153.5" stroke="#9ccfee"/><circle r="3.3" cy="0" class="D"/><circle r="3.3" cy="30.7" class="D"/><circle r="3.3" cy="61.4" class="D"/><circle r="3.3" cy="92.1" class="B"/><circle r="3.3" cy="122.8" class="D"/><circle r="3.3" cy="153.5" class="D"/></g>
<g transform="translate(24,77)"><path d="M0,0V153.5" stroke="#9ccfee"/><circle r="3.3" cy="0" class="T"/><circle r="3.3" cy="30.7" class="T"/><circle r="3.3" cy="61.4" class="T"/><circle r="3.3" cy="92.1" class="T"/><circle r="3.3" cy="122.8" class="T"/><circle r="3.3" cy="153.5" class="T"/></g>
</g>
<g transform="translate(114,-4)">
<g><path d="M0,0V153.5" stroke="#9ccfee"/><circle r="3.3" cy="0" class="D"/><circle r="3.3" cy="30.7" class="D"/><circle r="3.3" cy="61.4" class="D"/><circle r="3.3" cy="92.1" class="T"/><circle r="3.3" cy="122.8" class="T"/><circle r="3.3" cy="153.5" class="T"/></g>
<g transform="translate(12,38.7)"><path d="M0,0V153.5" stroke="#9ccfee"/><circle r="3.3" cy="0" class="L"/><circle r="3.3" cy="30.7" class="O"/><circle r="3.3" cy="61.4" class="D"/><circle r="3.3" cy="92.1" class="B"/><circle r="3.3" cy="122.8" class="B"/><circle r="3.3" cy="153.5" class="T"/></g>
<g transform="translate(24,77)"><path d="M0,0V153.5" stroke="#9ccfee"/><circle r="3.3" cy="0" class="G"/><circle r="3.3" cy="30.7" class="G"/><circle r="3.3" cy="61.4" class="Y"/><circle r="3.3" cy="92.1" class="T"/><circle r="3.3" cy="122.8" class="D"/><circle r="3.3" cy="153.5" class="D"/></g>
</g>
<g transform="translate(171,-6)">
<g><path d="M0,0V153.5" stroke="#9ccfee"/><circle r="3.3" cy="0" class="B"/><circle r="3.3" cy="30.7" class="D"/><circle r="3.3" cy="61.4" class="D"/><circle r="3.3" cy="92.1" class="B"/><circle r="3.3" cy="122.8" class="T"/><circle r="3.3" cy="153.5" class="T"/></g>
<g transform="translate(12,38.7)"><path d="M0,0V153.5" stroke="#9ccfee"/><circle r="3.3" cy="0" class="T"/><circle r="3.3" cy="30.7" class="Y"/><circle r="3.3" cy="61.4" class="Y"/><circle r="3.3" cy="92.1" class="B"/><circle r="3.3" cy="122.8" class="D"/><circle r="3.3" cy="153.5" class="T"/></g>
<g transform="translate(24,77)"><path d="M0,0V153.5" stroke="#9ccfee"/><circle r="3.3" cy="0" class="G"/><circle r="3.3" cy="30.7" class="G"/><circle r="3.3" cy="61.4" class="O"/><circle r="3.3" cy="92.1" class="B"/><circle r="3.3" cy="122.8" class="D"/><circle r="3.3" cy="153.5" class="D"/></g>
</g>
<g transform="translate(228,-8)">
<g><path d="M0,0V153.5" stroke="#9ccfee"/><circle r="3.3" cy="0" class="D"/><circle r="3.3" cy="30.7" class="D"/><circle r="3.3" cy="61.4" class="D"/><circle r="3.3" cy="92.1" class="D"/><circle r="3.3" cy="122.8" class="D"/><circle r="3.3" cy="153.5" class="D"/></g>
<g transform="translate(12,38.7)"><path d="M0,0V153.5" stroke="#9ccfee"/><circle r="3.3" cy="0" class="T"/><circle r="3.3" cy="30.7" class="T"/><circle r="3.3" cy="61.4" class="T"/><circle r="3.3" cy="92.1" class="D"/><circle r="3.3" cy="122.8" class="D"/><circle r="3.3" cy="153.5" class="D"/></g>
<g transform="translate(24,77)"><path d="M0,0V153.5" stroke="#9ccfee"/><circle r="3.3" cy="0" class="T"/><circle r="3.3" cy="30.7" class="T"/><circle r="3.3" cy="61.4" class="T"/><circle r="3.3" cy="92.1" class="B"/><circle r="3.3" cy="122.8" class="D"/><circle r="3.3" cy="153.5" class="B"/></g>
</g>
</g>
<g font-size="8" fill="#444" font-family="Liberation Sans">
<text x="3289" y="571">Te</text><text x="3289" y="602">Se</text><text x="3292" y="632">S</text><text x="3289" y="663">Sn</text><text x="3289" y="694">Ge</text><text x="3290" y="724">Si</text>
<text x="3286" y="740">Ta</text><text x="3296" y="778">Nb</text><text x="3311" y="816">V</text>
<text x="3322" y="824">Li</text><text x="3377" y="822">Na</text><text x="3437" y="820">K</text><text x="3492" y="818">Rb</text><text x="3549" y="816">Cs</text>
<text x="3586" y="811">0</text><text x="3586" y="779">0.2</text><text x="3586" y="746">0.4</text><text x="3586" y="714">0.6</text><text x="3586" y="682">0.8</text><text x="3586" y="649">1</text><text x="3586" y="617">1.2</text><text x="3586" y="584">1.4</text>
</g>
<g font-size="13" font-family="Liberation Sans"><text x="3267" y="658">Z</text><text x="3283" y="818">Y</text><text x="3407" y="833">X</text></g>
<rect x="3571" y="569" width="11" height="239" fill="url(#par)"/>
<text transform="translate(3617,695) rotate(-90)" font-size="13" text-anchor="middle">Half-metallic band gap (eV)</text>

<!-- FIG 5 -->
<g font-size="15">
<text x="3797" y="95">(a)</text><text x="4170" y="95">(b)</text>
<text transform="translate(3806,318) rotate(-90)" font-size="14" text-anchor="middle" letter-spacing="1">Energy(eV)</text>
</g>
<g stroke="#444" stroke-width="0.8"><path d="M3900,83V555M3982,83V555M4077,83V555M4125,83V555M4277,83V555M4359,83V555M4454,83V555M4501,83V555"/></g>
<g stroke="#000" stroke-width="1"><rect x="3832" y="83" width="325" height="472" fill="none"/><rect x="4209" y="83" width="324" height="472" fill="none"/>
<path d="M3832,110.4h4M3832,162.8h4M3832,214.6h4M3832,267h4M3832,371.4h4M3832,423.8h4M3832,476.2h4M3832,528.6h4M4157,110.4h-4M4157,162.8h-4M4157,214.6h-4M4157,267h-4M4157,371.4h-4M4157,423.8h-4M4157,476.2h-4M4157,528.6h-4"/>
<path d="M4209,110.4h4M4209,162.8h4M4209,214.6h4M4209,267h4M4209,371.4h4M4209,423.8h4M4209,476.2h4M4209,528.6h4M4533,110.4h-4M4533,162.8h-4M4533,214.6h-4M4533,267h-4M4533,371.4h-4M4533,423.8h-4M4533,476.2h-4M4533,528.6h-4"/>
</g>
<g font-size="13" text-anchor="end"><text x="3828" y="115">4</text><text x="3828" y="167">3</text><text x="3828" y="219">2</text><text x="3828" y="272">1</text><text x="3828" y="324">0</text><text x="3828" y="376">-1</text><text x="3828" y="428">-2</text><text x="3828" y="481">-3</text><text x="3828" y="533">-4</text>
<text x="4205" y="115">4</text><text x="4205" y="167">3</text><text x="4205" y="219">2</text><text x="4205" y="272">1</text><text x="4205" y="324">0</text><text x="4205" y="376">-1</text><text x="4205" y="428">-2</text><text x="4205" y="481">-3</text><text x="4205" y="533">-4</text></g>
<g font-size="14" text-anchor="middle"><text x="3832" y="570">W</text><text x="3900" y="570">L</text><text x="3982" y="570">Γ</text><text x="4077" y="570">X</text><text x="4125" y="570">W</text><text x="4157" y="570">K</text>
<text x="4209" y="570">W</text><text x="4277" y="570">L</text><text x="4359" y="570">Γ</text><text x="4454" y="570">X</text><text x="4501" y="570">W</text><text x="4533" y="570">K</text></g>
<g font-size="15"><text x="4161" y="325">E<tspan font-size="10" dy="4">F</tspan></text><text x="4537" y="325">E<tspan font-size="10" dy="4">F</tspan></text></g>
<path d="M3832,319H4157M4209,319H4533" stroke="#000" stroke-width="1.3" stroke-dasharray="4,3"/>
<g fill="none" stroke="#1a1ae0" stroke-width="1.2" stroke-linejoin="round">
<polyline points="3832,491.9 3862,499.8 3900,507.6 3942,494.5 3982,476.2 4032,477.2 4077,478.8 4125,486.7 4157,491.9"/>
<polyline points="3832,486.7 3900,505 3942,491.9 3982,476.2 4077,476.2 4102,484.1 4157,486.7"/>
<polyline points="3832,502.4 3867,520.7 3900,536.5 3942,512.9 3982,476.2 4007,497.2 4027,520.7 4052,505 4077,486.7 4102,499.8 4125,505 4157,499.8"/>
<polyline points="3832,368.8 3862,371.4 3900,371.4 3942,376.6 3982,384.5 4032,371.4 4077,368.8 4157,368.8"/>
<polyline points="3832,374 3900,371.4 3942,374 3982,381.9 4007,379.3 4047,387.1 4077,395 4107,376.6 4125,371.4 4157,376.6"/>
<polyline points="3832,321.6 3872,313.8 3900,310.1 3942,308.5 3982,298 4007,313.8 4042,329.5 4077,338.9 4125,337.3 4157,338.9"/>
<polyline points="3832,334.7 3900,338.9 3942,329.5 3972,313.8 3982,313.8 3997,311.1 4042,321.6 4077,323.2 4125,324.2 4157,320"/>
<polyline points="3832,334.7 3872,324.2 3900,311.1 3942,310 3982,298"/>
<polyline points="4077,324.2 4125,334.7 4157,332.1"/>
<polyline points="3832,235.2 3862,227.3 3900,211.6 3932,240.4 3982,298 4007,287.6 4027,258.7 4077,258.7 4102,245.6 4125,235.2 4157,243"/>
<polyline points="3832,156.6 3862,140.8 3900,122.5 3932,146.1 3962,203.7 3982,232.5 4012,243 4042,214.2 4077,177.5 4102,146.1 4125,130.4 4157,130.4"/>
<polyline points="3832,130.4 3862,114.6 3900,117.3 3932,161.8 3962,214.2 3982,232.5 3997,182.8 4012,125.1 4022,83.2"/>
<polyline points="3982,109.4 4032,111 4077,112 4097,93.7 4107,83.2"/>
<polyline points="3957,83.2 3982,109.4 3992,83.2"/>
<polyline points="4062,83.2 4077,114.6 4097,146.1 4125,156.6 4142,135.6 4157,109.4"/>
<polyline points="3832,98.9 3842,83.2"/>
<polyline points="4209,484.1 4277,502.4 4319,491.9 4359,476.2 4454,478.8 4479,481.4 4533,484.1"/>
<polyline points="4209,486.7 4277,505 4359,476.2 4384,486.7 4409,512.9 4434,502.4 4454,484.1 4479,497.2 4501,505 4533,497.2"/>
<polyline points="4209,502.4 4244,515.5 4277,526 4319,507.6 4359,476.2 4454,478.8 4501,486.7 4533,489.3"/>
<polyline points="4209,216.8 4249,211.6 4277,211.6 4309,222.1 4359,240.4 4399,266.6 4454,284.9 4479,250.9 4501,219.4 4533,193.2"/>
<polyline points="4209,219.4 4249,209 4277,214.2 4319,219.4 4359,237.8 4399,198.5 4439,190.6 4469,198.5 4501,219.4 4533,248.3"/>
<polyline points="4209,203.7 4277,201.1 4319,219.4 4359,240.4 4399,209 4439,182.8 4454,180.1 4501,188 4533,185.4"/>
<polyline points="4209,188 4249,172.3 4277,159.2 4319,182.8 4359,198.5 4399,201.1 4454,193.2 4501,203.7 4533,203.7"/>
<polyline points="4209,138.2 4239,146.1 4277,130.4 4319,161.8 4359,198.5 4384,209 4409,169.7 4434,156.6 4454,135.6 4469,114.6 4501,93.7 4533,83.2"/>
<polyline points="4209,96.3 4249,93.7 4269,98.9 4299,114.6 4339,146.1 4359,148.7 4384,151.3 4419,125.1 4454,117.3 4479,122.5 4501,135.6 4533,138.2"/>
<polyline points="4277,98.9 4309,119.9 4359,146.1 4384,109.4 4399,83.2"/>
<polyline points="4419,83.2 4439,104.2 4454,98.9 4474,83.2"/>
</g>
<rect x="4220" y="103" width="78" height="24" fill="#fff" stroke="#000"/><text x="4259" y="122" font-size="20" text-anchor="middle">CsVSe</text>
<g stroke="#e02020" stroke-width="2.5"><path d="M4337,285H4478M4339,476.2H4480" /></g>
<g stroke="#e02020" stroke-width="1" fill="none"><path d="M4368,287V474M4383,287V317"/></g>
<path d="M4368,285l-3,7h6zM4368,476l-3,-7h6zM4383,285l-3,7h6zM4383,319l-3,-7h6z" fill="#e02020"/>
<text x="4391" y="309" font-size="21">E<tspan font-size="13" dy="6">HM</tspan><tspan dy="-6"> = 0.7 eV</tspan></text>
<text x="4374" y="414" font-size="21">E<tspan font-size="13" dy="6">BG</tspan><tspan dy="-6"> = 3.7 eV</tspan></text>
<rect x="3933" y="525" width="105" height="26" fill="#fff" stroke="#000"/><text x="3938" y="545" font-size="20">Spin Up</text>
<path d="M4024,548V531" stroke="#000" stroke-width="2"/><path d="M4024,527l-4,8h8z"/>
<rect x="4309" y="526" width="112" height="27" fill="#fff" stroke="#000"/><text x="4314" y="547" font-size="20">Spin Dn</text>
<path d="M4408,529V546" stroke="#000" stroke-width="2"/><path d="M4408,551l-4,-8h8z"/>
</svg>
</body></html>
